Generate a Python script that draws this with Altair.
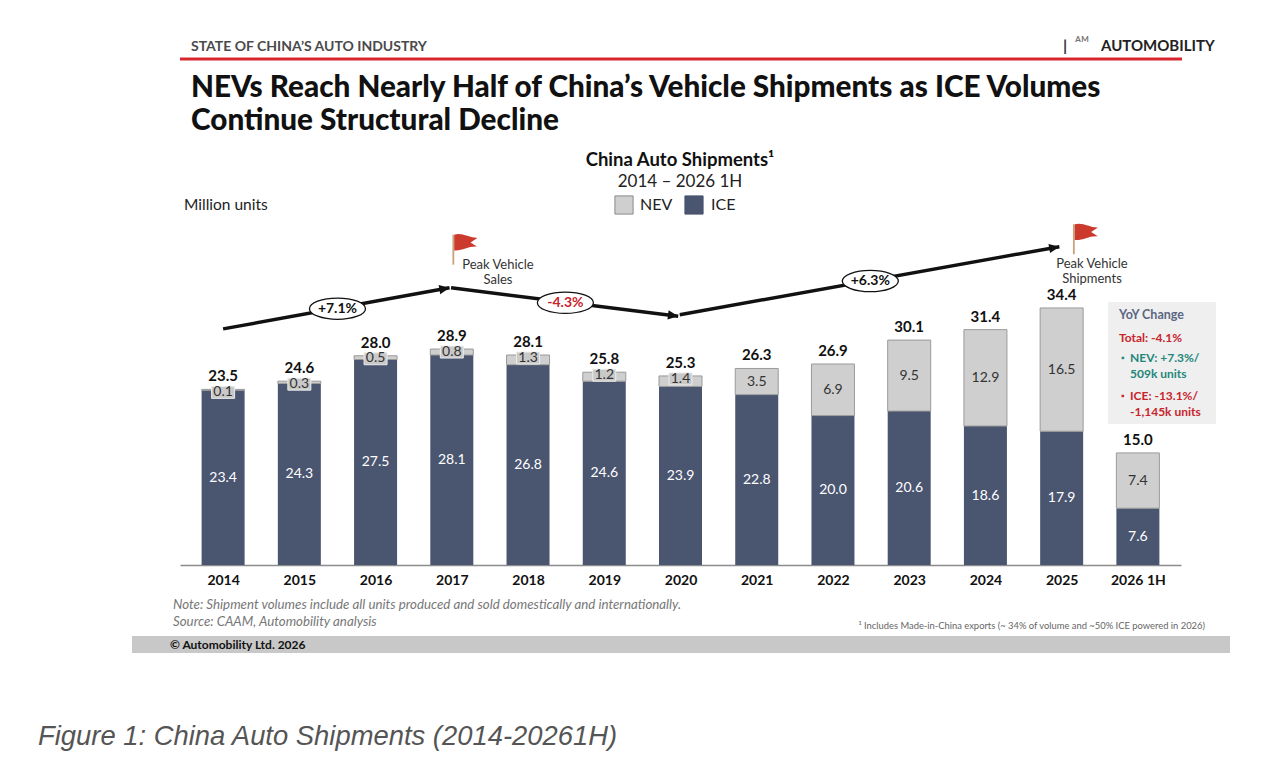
import math

import altair as alt
import pandas as pd

years = ["2014", "2015", "2016", "2017", "2018", "2019", "2020",
         "2021", "2022", "2023", "2024", "2025", "2026 1H"]
nev = [0.1, 0.3, 0.5, 0.8, 1.3, 1.2, 1.4, 3.5, 6.9, 9.5, 12.9, 16.5, 7.4]
ice = [23.4, 24.3, 27.5, 28.1, 26.8, 24.6, 23.9, 22.8, 20.0, 20.6, 18.6, 17.9, 7.6]
totals = [23.5, 24.6, 28.0, 28.9, 28.1, 25.8, 25.3, 26.3, 26.9, 30.1, 31.4, 34.4, 15.0]

# trend arrows: x in year index, y in million units
trend_x0 = [0.0, 2.99, 5.99]
trend_y0 = [31.6, 37.1, 33.5]
trend_x1 = [2.97, 5.97, 10.97]
trend_y1 = [37.1, 33.3, 42.6]
trend_text = ["+7.1%", "-4.3%", "+6.3%"]
trend_text_x = [1.5, 4.49, 8.49]
trend_text_y = [34.3, 35.1, 38.0]

# peak flags
peak_x = [3.02, 11.16]
peak_y = [42.2, 43.6]

FONT = "Lato"
ICE_C = "#4a5570"
NEV_C = "#cfcfcf"
RED = "#c8242c"
TEAL = "#23877a"

W, H = 1001, 269
X_DOM, Y_DOM = [-0.5, 12.5], [0, 36]
OX, OY = 180, 296  # where the plot origin lands on the page

year_expr = "[" + ",".join(f"'{y}'" for y in years) + "][datum.value]"
x_axis = alt.Axis(values=list(range(len(years))), labelExpr=year_expr, title=None,
                  grid=False, ticks=False, domainColor="#8c8c8c", domainWidth=1.5,
                  labelFont=FONT, labelFontWeight="bold", labelFontSize=14,
                  labelColor="#111", labelPadding=8, labelOverlap=False, labelFlush=False)


def xq(f):
    return alt.X(f"{f}:Q", scale=alt.Scale(domain=X_DOM, nice=False, zero=False), axis=x_axis)


def yq(f):
    return alt.Y(f"{f}:Q", scale=alt.Scale(domain=Y_DOM, nice=False), axis=None)


def label(text, x, y, size=12, color="#222", weight="normal", align="left", style="normal", font=FONT):
    return alt.Chart(pd.DataFrame({"t": [text]})).mark_text(
        align=align, baseline="middle", fontSize=size, color=color,
        fontWeight=weight, fontStyle=style, font=font,
    ).encode(x=alt.value(x - OX), y=alt.value(y - OY), text="t:N")


def box(x0, x1, y0, y1, color):
    return alt.Chart(pd.DataFrame({"a": [0]})).mark_rect(color=color).encode(
        x=alt.value(x0 - OX), x2=alt.value(x1 - OX), y=alt.value(y0 - OY), y2=alt.value(y1 - OY))


def swatch(x, y, color, stroke):
    return alt.Chart(pd.DataFrame({"a": [0]})).mark_point(
        shape="square", filled=True, fill=color, stroke=stroke, strokeWidth=1, size=330, opacity=1,
    ).encode(x=alt.value(x - OX), y=alt.value(y - OY))


df = pd.DataFrame({"year": years, "idx": range(len(years)), "nev": nev, "ice": ice, "total": totals})
df["zero"] = 0.0
df["top"] = df.ice + df.nev
df["small"] = df.nev < 2
df["box_hi"] = df.top + 0.4
df["box_lo"] = df.top - 1.2
df["ice_mid"] = df.ice / 2
df["nev_y"] = (df.ice + df.top) / 2
df.loc[df.small, "nev_y"] = df.top - 0.35
df["ice_t"] = df.ice.map("{:.1f}".format)
df["nev_t"] = df.nev.map("{:.1f}".format)
df["tot_t"] = df.total.map("{:.1f}".format)

base = alt.Chart(df)
ice_bars = base.mark_bar(size=43, color=ICE_C).encode(x=xq("idx"), y=yq("zero"), y2="ice")
nev_bars = base.mark_bar(size=43, color=NEV_C, stroke="#9a9a9a", strokeWidth=1).encode(
    x=xq("idx"), y=yq("ice"), y2="top")
nev_box = base.transform_filter("datum.small").mark_bar(
    size=23, color="#c9c9c9", stroke="#ececec", strokeWidth=1).encode(x=xq("idx"), y=yq("box_lo"), y2="box_hi")
ice_lab = base.mark_text(color="white", fontSize=14, font=FONT).encode(
    x=xq("idx"), y=yq("ice_mid"), text="ice_t:N")
nev_lab = base.mark_text(color="#333", fontSize=14, font=FONT).encode(
    x=xq("idx"), y=yq("nev_y"), text="nev_t:N")
tot_lab = base.mark_text(color="#111", fontSize=15, fontWeight="bold", font=FONT,
                         baseline="bottom", dy=-5).encode(x=xq("idx"), y=yq("top"), text="tot_t:N")

PX_X, PX_Y = W / (X_DOM[1] - X_DOM[0]), H / (Y_DOM[1] - Y_DOM[0])
tr = pd.DataFrame({"x0": trend_x0, "y0": trend_y0, "x1": trend_x1, "y1": trend_y1})
tr["ang"] = [math.degrees(math.atan2(-(b - a) * PX_Y, (d - c) * PX_X)) % 360
             for a, b, c, d in zip(tr.y0, tr.y1, tr.x0, tr.x1)]
arrows = alt.Chart(tr).mark_rule(color="#111", strokeWidth=3.5).encode(
    x=xq("x0"), x2="x1", y=yq("y0"), y2="y1")
heads = alt.Chart(tr).mark_point(shape="M 0 0 L -1 -0.45 L -1 0.45 Z", filled=True, color="#111",
                                 size=420, opacity=1).encode(
    x=xq("x1"), y=yq("y1"), angle=alt.Angle("ang:Q", scale=None))

ov = pd.DataFrame({"x": trend_text_x, "y": trend_text_y, "t": trend_text})
ovals = alt.Chart(ov).mark_point(shape="M -1 0 A 1 0.38 0 1 0 1 0 A 1 0.38 0 1 0 -1 0 Z",
                                 filled=True, fill="white", stroke="#111", strokeWidth=1.3,
                                 size=3136, opacity=1).encode(x=xq("x"), y=yq("y"))
oval_txt = alt.Chart(ov).mark_text(fontSize=14, fontWeight="bold", font=FONT).encode(
    x=xq("x"), y=yq("y"), text="t:N",
    color=alt.condition("datum.t[0] == '-'", alt.value(RED), alt.value("#111")))

fl = pd.DataFrame({"x": peak_x, "y": peak_y})
poles = alt.Chart(fl).mark_point(shape="M -0.06 -1 L 0.06 -1 L 0.06 1 L -0.06 1 Z", filled=True,
                                 color="#c9a27a", size=900, opacity=1).encode(x=xq("x"), y=yq("y"))
cloth = alt.Chart(fl).mark_point(
    shape="M 0.06 -1 C 0.6 -1.15 1.0 -0.8 1.6 -0.78 L 1.15 -0.48 L 1.6 -0.2 C 1.0 -0.25 0.6 0.1 0.06 0.05 Z",
    filled=True, color="#cc3a2e", size=900, opacity=1).encode(x=xq("x"), y=yq("y"))

deco = [
    box(132, 1230, 636, 653, "#c8c8c8"),
    box(1108, 1216, 302, 424, "#efefef"),
    alt.Chart(pd.DataFrame({"a": [0]})).mark_rule(color="#d7262d", strokeWidth=3).encode(
        x=alt.value(180 - OX), x2=alt.value(1182 - OX), y=alt.value(59 - OY)),
    label("STATE OF CHINA’S AUTO INDUSTRY", 191, 47, size=14, color="#4a4a4a", weight="bold"),
    label("|", 1063, 46, size=16, color="#333", weight="bold"),
    label("ᴬᴹ", 1082, 45, size=16, color="#777", align="center"),
    label("AUTOMOBILITY", 1101, 46, size=15, color="#222", weight="bold"),
    label("NEVs Reach Nearly Half of China’s Vehicle Shipments as ICE Volumes", 191, 88,
          size=29.7, color="#111", weight=900),
    label("Continue Structural Decline", 191, 121, size=29.7, color="#111", weight=900),
    label("China Auto Shipments¹", 680, 160, size=18.5, color="#111", weight="bold", align="center"),
    label("2014 – 2026 1H", 680, 182, size=17, color="#222", align="center"),
    swatch(624, 205, NEV_C, "#8a8a8a"),
    label("NEV", 640, 205, size=16, color="#222"),
    swatch(694, 205, ICE_C, ICE_C),
    label("ICE", 711, 205, size=16, color="#222"),
    label("Million units", 184, 205, size=15.5, color="#222"),
    label("Peak Vehicle", 498, 265, size=13, color="#333", align="center"),
    label("Sales", 498, 280, size=13, color="#333", align="center"),
    label("Peak Vehicle", 1092, 264, size=13, color="#333", align="center"),
    label("Shipments", 1092, 279, size=13, color="#333", align="center"),
    label("YoY Change", 1119, 315, size=12.5, color="#5b6683", weight="bold"),
    label("Total: -4.1%", 1119, 338, size=12, color=RED, weight="bold"),
    label("▪", 1121, 358, size=9, color=TEAL),
    label("NEV: +7.3%/", 1130, 358, size=12, color=TEAL, weight="bold"),
    label("509k units", 1130, 374, size=12, color=TEAL, weight="bold"),
    label("▪", 1121, 396, size=9, color=RED),
    label("ICE: -13.1%/", 1130, 396, size=12, color=RED, weight="bold"),
    label("-1,145k units", 1130, 412, size=12, color=RED, weight="bold"),
    label("Note: Shipment volumes include all units produced and sold domestically and internationally.",
          173, 605, size=13.3, color="#777", style="italic"),
    label("Source: CAAM, Automobility analysis", 173, 622, size=13.3, color="#777", style="italic"),
    label("¹ Includes Made-in-China exports (~ 34% of volume and ~50% ICE powered in 2026)",
          1205, 626, size=9.4, color="#666", align="right"),
    label("© Automobility Ltd. 2026", 170, 645, size=12, color="#111", weight="bold"),
    label("Figure 1: China Auto Shipments (2014-20261H)", 38, 737, size=27.4, color="#555",
          style="italic", font="Liberation Sans"),
]

chart = alt.layer(
    *deco[:2], ice_bars, nev_bars, nev_box, ice_lab, nev_lab, tot_lab,
    arrows, heads, ovals, oval_txt, poles, cloth, *deco[2:],
).properties(
    width=W, height=H, autosize=alt.AutoSizeParams(type="none"),
    padding={"left": 172, "top": 288, "right": 91, "bottom": 195},
    background="white",
).configure_view(stroke=None)

chart.save("out.html", embed_options={"renderer": "svg", "actions": False})
